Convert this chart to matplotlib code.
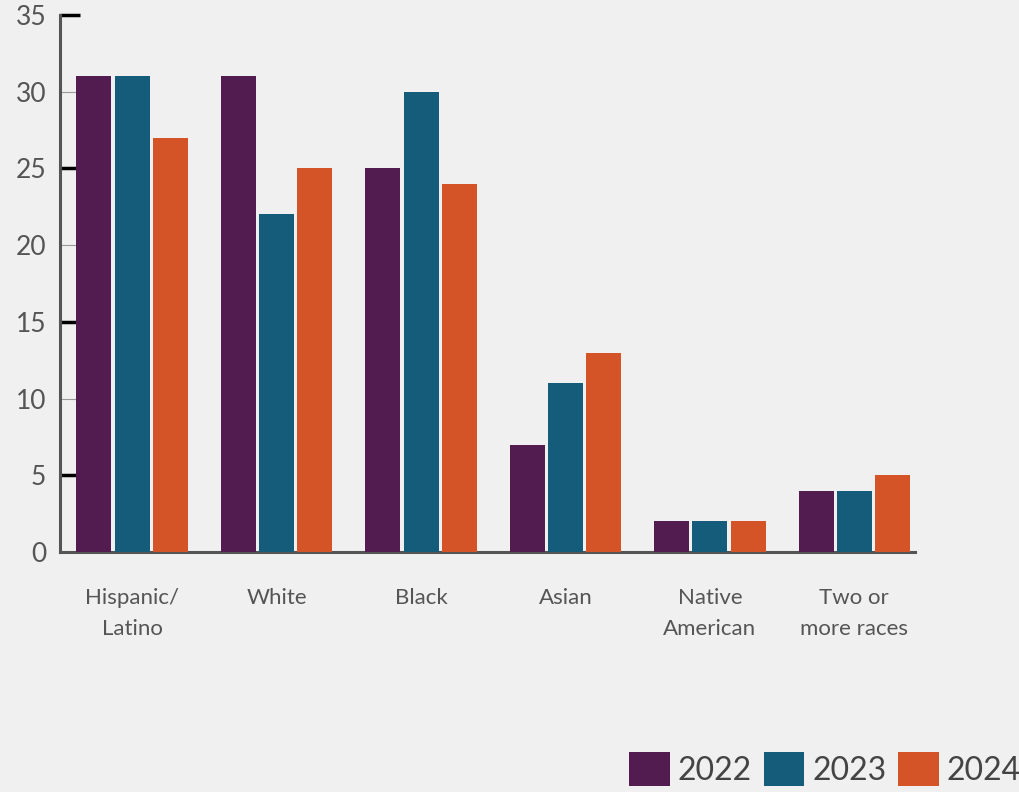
import matplotlib
matplotlib.use('Agg')
import matplotlib.pyplot as plt
import numpy as np

plt.rcParams['font.family'] = ['Lato', 'DejaVu Sans']

# data
categories = ['Hispanic/\nLatino', 'White', 'Black', 'Asian', 'Native\nAmerican', 'Two or\nmore races']
years = ['2022', '2023', '2024']
vals2022 = [31, 31, 25, 7, 2, 4]
vals2023 = [31, 22, 30, 11, 2, 4]
vals2024 = [27, 25, 24, 13, 2, 5]
colors = ['#531c50', '#155b7a', '#d45427']

bg = '#f0f0f0'
fig = plt.figure(figsize=(10.19, 7.92), dpi=100, facecolor=bg)
ax = fig.add_axes([60 / 1019, 1 - 552 / 792, (915 - 60) / 1019, (552 - 15) / 792])
ax.set_facecolor(bg)

ind = np.arange(len(categories))
width = 0.243
step = 0.265
bars = []
for i, vals in enumerate([vals2022, vals2023, vals2024]):
    b = ax.bar(ind + (i - 1) * step, vals, width, color=colors[i], zorder=3)
    bars.append(b)

ax.set_xlim(-0.5, 5.42)
ax.set_ylim(0, 35)

for s in ['top', 'right']:
    ax.spines[s].set_visible(False)
for s in ['left', 'bottom']:
    ax.spines[s].set_color('#555555')
    ax.spines[s].set_linewidth(2.2)

ax.set_yticks(range(0, 36, 5))
ax.tick_params(axis='y', direction='in', length=0, labelsize=19, labelcolor='#555555', pad=10)
# black inward ticks at odd fives, thin gray at even
for y in range(5, 36, 5):
    if y % 10 == 5:
        ax.plot([-0.5, -0.39 if y < 35 else -0.36], [y, y], color='black', lw=2.5, zorder=2,
                solid_capstyle='butt', clip_on=False)
    else:
        ax.plot([-0.5, -0.39], [y, y], color='#999999', lw=0.8, zorder=2)

ax.set_xticks(ind)
ax.set_xticklabels(categories, fontsize=16, color='#555555', linespacing=1.7)
ax.tick_params(axis='x', length=0, pad=26)

fig.legend([b[0] for b in bars], years, loc='upper left',
           bbox_to_anchor=(629 / 1019, 1 - 752 / 792), ncol=3, frameon=False,
           fontsize=23, handlelength=1.28, handleheight=1.28, handletextpad=0.25,
           columnspacing=0.36, borderpad=0, borderaxespad=0, labelcolor='#444444')

fig.savefig('out.png', dpi=100, facecolor=bg)
